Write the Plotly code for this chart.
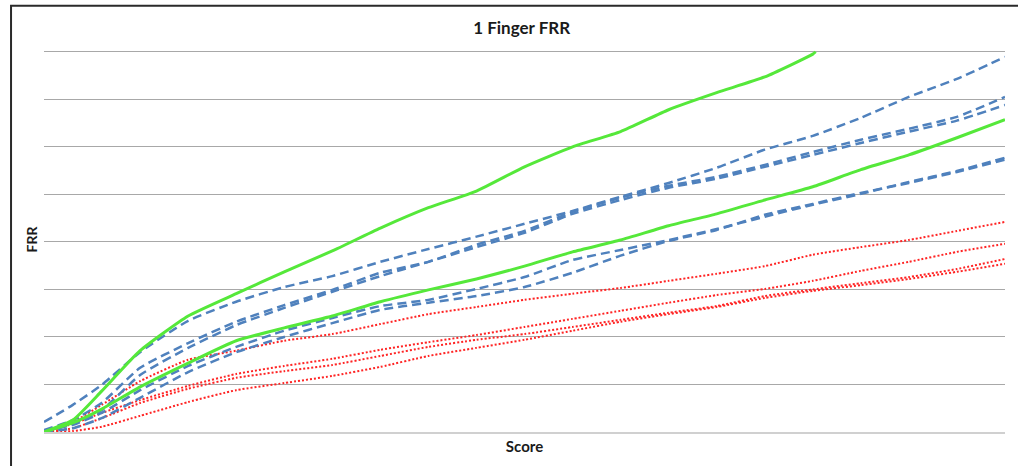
import plotly.graph_objects as go

# Score axis sample points (0-100)
score = [0, 3, 6, 10, 15, 20, 25, 30, 35, 40, 45, 50, 55, 60, 65, 70, 75, 80, 85, 90, 95, 100]

# Solid green series
green_1_score = [0, 3, 6, 10, 15, 20, 25, 30, 35, 40, 45, 50, 55, 60, 65, 70, 75, 80, 80.3]
green_1 = [0, 0.25, 0.86, 1.71, 2.44, 2.91, 3.37, 3.81, 4.29, 4.72, 5.07, 5.58, 6.0, 6.32, 6.78, 7.14, 7.47, 7.95, 8.0]
green_2 = [0, 0.19, 0.48, 0.95, 1.45, 1.92, 2.19, 2.44, 2.74, 2.99, 3.22, 3.49, 3.79, 4.04, 4.34, 4.59, 4.88, 5.16, 5.52, 5.83, 6.19, 6.57]

# Dashed blue series
blue_1 = [0.21, 0.57, 0.99, 1.68, 2.34, 2.74, 3.05, 3.28, 3.58, 3.85, 4.11, 4.38, 4.65, 4.95, 5.24, 5.56, 5.94, 6.23, 6.61, 7.05, 7.43, 7.89]
blue_2 = [0.04, 0.25, 0.61, 1.35, 1.87, 2.32, 2.67, 2.99, 3.35, 3.58, 3.94, 4.23, 4.63, 4.93, 5.18, 5.37, 5.62, 5.89, 6.15, 6.38, 6.63, 7.05]
blue_3 = [0.02, 0.17, 0.46, 1.2, 1.77, 2.25, 2.61, 2.95, 3.28, 3.58, 3.89, 4.19, 4.59, 4.88, 5.14, 5.33, 5.58, 5.83, 6.08, 6.32, 6.55, 6.88]
blue_4 = [0.02, 0.15, 0.4, 0.88, 1.39, 1.79, 2.13, 2.4, 2.65, 2.78, 3.01, 3.26, 3.62, 3.83, 4.04, 4.27, 4.53, 4.78, 5.01, 5.26, 5.49, 5.77]
blue_5 = [0, 0.08, 0.29, 0.72, 1.26, 1.68, 2.0, 2.29, 2.57, 2.72, 2.86, 3.05, 3.35, 3.71, 4.02, 4.25, 4.57, 4.8, 5.03, 5.24, 5.47, 5.73]

# Dotted red series
red_1 = [0, 0.21, 0.57, 1.07, 1.52, 1.71, 1.92, 2.06, 2.27, 2.48, 2.63, 2.78, 2.91, 3.03, 3.18, 3.33, 3.49, 3.73, 3.89, 4.04, 4.23, 4.42]
red_2 = [0, 0.17, 0.4, 0.67, 0.97, 1.22, 1.39, 1.54, 1.73, 1.89, 2.04, 2.21, 2.38, 2.55, 2.72, 2.88, 3.01, 3.18, 3.39, 3.58, 3.79, 3.96]
red_3 = [0, 0.08, 0.29, 0.61, 0.91, 1.14, 1.28, 1.41, 1.6, 1.79, 1.94, 2.06, 2.21, 2.36, 2.51, 2.65, 2.86, 3.0, 3.13, 3.26, 3.43, 3.64]
red_4 = [0, 0.02, 0.11, 0.34, 0.63, 0.88, 1.03, 1.18, 1.37, 1.6, 1.77, 1.94, 2.13, 2.32, 2.48, 2.63, 2.82, 2.97, 3.09, 3.22, 3.37, 3.54]

GREEN = "#55e83a"
BLUE = "#4f81bd"
RED = "#ff2424"

fig = go.Figure()

for ys in [red_4, red_3, red_2, red_1]:
    fig.add_trace(go.Scatter(x=score, y=ys, mode="lines",
                             line=dict(color=RED, width=2, dash="2px,2px", shape="spline", smoothing=0.5)))
for ys in [blue_5, blue_4, blue_3, blue_2, blue_1]:
    fig.add_trace(go.Scatter(x=score, y=ys, mode="lines",
                             line=dict(color=BLUE, width=2.5, dash="9px,5px", shape="spline", smoothing=0.5)))
fig.add_trace(go.Scatter(x=score, y=green_2, mode="lines",
                         line=dict(color=GREEN, width=3, shape="spline", smoothing=0.5)))
fig.add_trace(go.Scatter(x=green_1_score, y=green_1, mode="lines",
                         line=dict(color=GREEN, width=3, shape="spline", smoothing=0.5)))

FONT = "Lato, 'Open Sans', sans-serif"

fig.update_layout(
    width=1018, height=466,
    margin=dict(l=44, r=13, t=47, b=34),
    paper_bgcolor="white", plot_bgcolor="white",
    showlegend=False,
    title=dict(text="<b>1 Finger FRR</b>", x=0.5125, xanchor="center", y=0.94, yanchor="middle",
               font=dict(family=FONT, size=17, color="#1a1a1a")),
    font=dict(family=FONT, color="#1a1a1a"),
)

fig.update_xaxes(range=[0, 100], showgrid=False, showticklabels=False, ticks="",
                 zeroline=False, showline=True, linecolor="#d0d0d0", linewidth=2,
                 title=dict(text="<b>Score</b>", font=dict(family=FONT, size=15, color="#1a1a1a"), standoff=8))
fig.update_yaxes(range=[0, 8.1], tick0=0, dtick=1, showgrid=True, gridcolor="#a8a8a8", gridwidth=1,
                 showticklabels=False, ticks="", zeroline=False, showline=False,
                 title=dict(text="<b>FRR</b>", font=dict(family=FONT, size=14, color="#1a1a1a"), standoff=2))

# outer chart frame (top and left edges visible)
fig.add_shape(type="rect", xref="paper", yref="paper",
              x0=-0.0343, x1=1.2, y0=-0.5, y1=1.107,
              line=dict(color="#2a2a2a", width=2), fillcolor="rgba(0,0,0,0)", layer="above")

fig.write_html("out.html", config={"displayModeBar": False},
               post_script="document.body.style.margin='0px';document.body.style.overflow='hidden';")
